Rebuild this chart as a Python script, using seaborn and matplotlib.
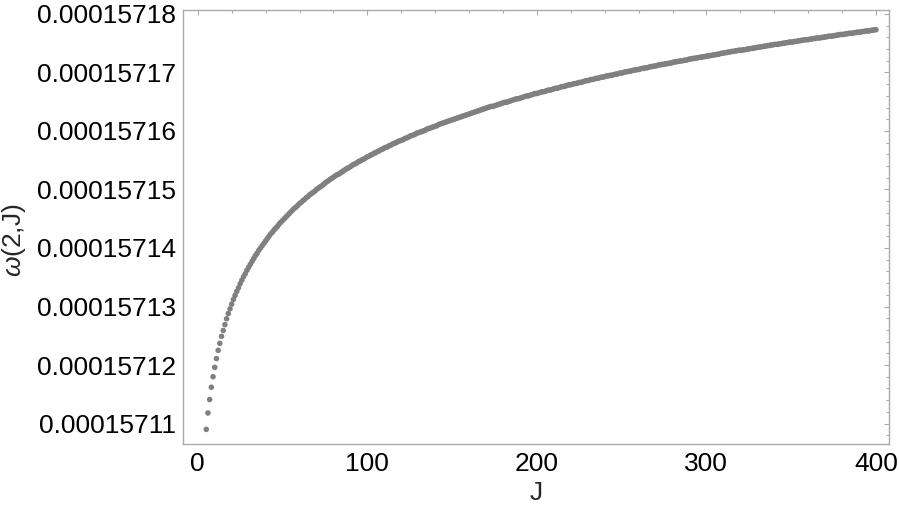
import matplotlib
matplotlib.use("Agg")
import matplotlib.pyplot as plt
import matplotlib.ticker as mticker
import pandas as pd
import seaborn as sns

# J runs over the integers 5..400, one dot per value
J = list(range(5, 401))

# omega(2, J)
omega = [
    1.571090e-4, 1.571118e-4, 1.571141e-4, 1.571162e-4, 1.571180e-4, 1.571196e-4, 1.571211e-4, 1.571225e-4,
    1.571237e-4, 1.571249e-4, 1.571259e-4, 1.571269e-4, 1.571279e-4, 1.571288e-4, 1.571296e-4, 1.571304e-4,
    1.571312e-4, 1.571319e-4, 1.571326e-4, 1.571332e-4, 1.571339e-4, 1.571345e-4, 1.571351e-4, 1.571356e-4, 1.571362e-4, 1.571367e-4,
    1.571372e-4, 1.571377e-4, 1.571382e-4, 1.571387e-4, 1.571391e-4, 1.571396e-4, 1.571400e-4, 1.571404e-4, 1.571408e-4, 1.571412e-4,
    1.571416e-4, 1.571420e-4, 1.571424e-4, 1.571427e-4, 1.571431e-4, 1.571434e-4, 1.571437e-4, 1.571441e-4, 1.571444e-4, 1.571447e-4,
    1.571450e-4, 1.571453e-4, 1.571456e-4, 1.571459e-4, 1.571462e-4, 1.571465e-4, 1.571468e-4, 1.571470e-4, 1.571473e-4, 1.571476e-4,
    1.571478e-4, 1.571481e-4, 1.571483e-4, 1.571486e-4, 1.571488e-4, 1.571491e-4, 1.571493e-4, 1.571495e-4, 1.571497e-4, 1.571500e-4,
    1.571502e-4, 1.571504e-4, 1.571506e-4, 1.571508e-4, 1.571511e-4, 1.571513e-4, 1.571515e-4, 1.571517e-4, 1.571519e-4, 1.571521e-4,
    1.571523e-4, 1.571525e-4, 1.571526e-4, 1.571528e-4, 1.571530e-4, 1.571532e-4, 1.571534e-4, 1.571536e-4, 1.571537e-4, 1.571539e-4,
    1.571541e-4, 1.571543e-4, 1.571544e-4, 1.571546e-4, 1.571548e-4, 1.571549e-4, 1.571551e-4, 1.571552e-4, 1.571554e-4, 1.571556e-4,
    1.571557e-4, 1.571559e-4, 1.571560e-4, 1.571562e-4, 1.571563e-4, 1.571565e-4, 1.571566e-4, 1.571568e-4, 1.571569e-4, 1.571571e-4,
    1.571572e-4, 1.571573e-4, 1.571575e-4, 1.571576e-4, 1.571578e-4, 1.571579e-4, 1.571580e-4, 1.571582e-4, 1.571583e-4, 1.571584e-4,
    1.571585e-4, 1.571587e-4, 1.571588e-4, 1.571589e-4, 1.571591e-4, 1.571592e-4, 1.571593e-4, 1.571594e-4, 1.571596e-4, 1.571597e-4,
    1.571598e-4, 1.571599e-4, 1.571600e-4, 1.571601e-4, 1.571603e-4, 1.571604e-4, 1.571605e-4, 1.571606e-4, 1.571607e-4, 1.571608e-4,
    1.571609e-4, 1.571611e-4, 1.571612e-4, 1.571613e-4, 1.571614e-4, 1.571615e-4, 1.571616e-4, 1.571617e-4, 1.571618e-4, 1.571619e-4,
    1.571620e-4, 1.571621e-4, 1.571622e-4, 1.571623e-4, 1.571624e-4, 1.571625e-4, 1.571626e-4, 1.571627e-4, 1.571628e-4, 1.571629e-4,
    1.571630e-4, 1.571631e-4, 1.571632e-4, 1.571633e-4, 1.571634e-4, 1.571635e-4, 1.571636e-4, 1.571637e-4, 1.571638e-4, 1.571639e-4,
    1.571640e-4, 1.571641e-4, 1.571642e-4, 1.571642e-4, 1.571643e-4, 1.571644e-4, 1.571645e-4, 1.571646e-4, 1.571647e-4, 1.571648e-4,
    1.571649e-4, 1.571649e-4, 1.571650e-4, 1.571651e-4, 1.571652e-4, 1.571653e-4, 1.571654e-4, 1.571655e-4, 1.571655e-4, 1.571656e-4,
    1.571657e-4, 1.571658e-4, 1.571659e-4, 1.571660e-4, 1.571660e-4, 1.571661e-4, 1.571662e-4, 1.571663e-4, 1.571664e-4, 1.571664e-4,
    1.571665e-4, 1.571666e-4, 1.571667e-4, 1.571667e-4, 1.571668e-4, 1.571669e-4, 1.571670e-4, 1.571670e-4, 1.571671e-4, 1.571672e-4,
    1.571673e-4, 1.571673e-4, 1.571674e-4, 1.571675e-4, 1.571676e-4, 1.571676e-4, 1.571677e-4, 1.571678e-4, 1.571679e-4, 1.571679e-4,
    1.571680e-4, 1.571681e-4, 1.571681e-4, 1.571682e-4, 1.571683e-4, 1.571683e-4, 1.571684e-4, 1.571685e-4, 1.571686e-4, 1.571686e-4,
    1.571687e-4, 1.571688e-4, 1.571688e-4, 1.571689e-4, 1.571690e-4, 1.571690e-4, 1.571691e-4, 1.571692e-4, 1.571692e-4, 1.571693e-4,
    1.571694e-4, 1.571694e-4, 1.571695e-4, 1.571695e-4, 1.571696e-4, 1.571697e-4, 1.571697e-4, 1.571698e-4, 1.571699e-4, 1.571699e-4,
    1.571700e-4, 1.571701e-4, 1.571701e-4, 1.571702e-4, 1.571702e-4, 1.571703e-4, 1.571704e-4, 1.571704e-4, 1.571705e-4, 1.571705e-4,
    1.571706e-4, 1.571707e-4, 1.571707e-4, 1.571708e-4, 1.571708e-4, 1.571709e-4, 1.571710e-4, 1.571710e-4, 1.571711e-4, 1.571711e-4,
    1.571712e-4, 1.571713e-4, 1.571713e-4, 1.571714e-4, 1.571714e-4, 1.571715e-4, 1.571715e-4, 1.571716e-4, 1.571716e-4, 1.571717e-4,
    1.571718e-4, 1.571718e-4, 1.571719e-4, 1.571719e-4, 1.571720e-4, 1.571720e-4, 1.571721e-4, 1.571721e-4, 1.571722e-4, 1.571723e-4,
    1.571723e-4, 1.571724e-4, 1.571724e-4, 1.571725e-4, 1.571725e-4, 1.571726e-4, 1.571726e-4, 1.571727e-4, 1.571727e-4, 1.571728e-4,
    1.571728e-4, 1.571729e-4, 1.571729e-4, 1.571730e-4, 1.571730e-4, 1.571731e-4, 1.571731e-4, 1.571732e-4, 1.571733e-4, 1.571733e-4,
    1.571734e-4, 1.571734e-4, 1.571735e-4, 1.571735e-4, 1.571736e-4, 1.571736e-4, 1.571737e-4, 1.571737e-4, 1.571738e-4, 1.571738e-4,
    1.571738e-4, 1.571739e-4, 1.571739e-4, 1.571740e-4, 1.571740e-4, 1.571741e-4, 1.571741e-4, 1.571742e-4, 1.571742e-4, 1.571743e-4,
    1.571743e-4, 1.571744e-4, 1.571744e-4, 1.571745e-4, 1.571745e-4, 1.571746e-4, 1.571746e-4, 1.571747e-4, 1.571747e-4, 1.571748e-4,
    1.571748e-4, 1.571748e-4, 1.571749e-4, 1.571749e-4, 1.571750e-4, 1.571750e-4, 1.571751e-4, 1.571751e-4, 1.571752e-4, 1.571752e-4,
    1.571752e-4, 1.571753e-4, 1.571753e-4, 1.571754e-4, 1.571754e-4, 1.571755e-4, 1.571755e-4, 1.571756e-4, 1.571756e-4, 1.571756e-4,
    1.571757e-4, 1.571757e-4, 1.571758e-4, 1.571758e-4, 1.571759e-4, 1.571759e-4, 1.571759e-4, 1.571760e-4, 1.571760e-4, 1.571761e-4,
    1.571761e-4, 1.571762e-4, 1.571762e-4, 1.571762e-4, 1.571763e-4, 1.571763e-4, 1.571764e-4, 1.571764e-4, 1.571765e-4, 1.571765e-4,
    1.571765e-4, 1.571766e-4, 1.571766e-4, 1.571767e-4, 1.571767e-4, 1.571767e-4, 1.571768e-4, 1.571768e-4, 1.571769e-4, 1.571769e-4,
    1.571769e-4, 1.571770e-4, 1.571770e-4, 1.571771e-4, 1.571771e-4, 1.571771e-4, 1.571772e-4, 1.571772e-4, 1.571773e-4, 1.571773e-4,
]

x_ticks = [0, 100, 200, 300, 400]
y_ticks = [1.5711e-4, 1.5712e-4, 1.5713e-4, 1.5714e-4, 1.5715e-4, 1.5716e-4, 1.5717e-4, 1.5718e-4]

df = pd.DataFrame({"J": J, "omega": omega})

sns.set_style("white")
plt.rcParams["font.family"] = ["Liberation Sans", "DejaVu Sans"]
plt.rcParams["mathtext.fontset"] = "custom"
plt.rcParams["mathtext.rm"] = "Liberation Sans"
plt.rcParams["mathtext.it"] = "Liberation Sans:italic"

frame = "#ababab"
fig = plt.figure(figsize=(8.99, 5.17), dpi=100)
ax = fig.add_axes([0.2036, 0.1412, 0.7853, 0.8395])
sns.scatterplot(data=df, x="J", y="omega", ax=ax, color="#808080", s=16,
                edgecolor="none", linewidth=0, legend=False)

ax.set_xlim(-8.7, 407.7)
ax.set_ylim(1.571065e-4, 1.5718068e-4)
ax.set_xticks(x_ticks)
ax.set_yticks(y_ticks)
ax.xaxis.set_minor_locator(mticker.MultipleLocator(20))
ax.yaxis.set_minor_locator(mticker.MultipleLocator(2e-9))
ax.yaxis.set_major_formatter(mticker.FuncFormatter(lambda v, _: f"{v:.8f}"))

for sp in ax.spines.values():
    sp.set_color(frame)
    sp.set_linewidth(1.0)
ax.tick_params(which="both", direction="in", top=True, right=True,
               color=frame, width=0.8, labelsize=19, labelcolor="black")
ax.tick_params(which="major", length=3.5)
ax.tick_params(which="minor", length=2)
ax.tick_params(axis="x", pad=6)
ax.tick_params(axis="y", pad=5)

ax.set_xlabel("J", fontsize=19)
ax.xaxis.set_label_coords(0.5, -0.085)
ax.set_ylabel("")
fig.text(0.016, 0.536, r"$\omega$(2,J)", fontsize=19, rotation=90,
         ha="center", va="center")

fig.savefig("out.png", dpi=100)
